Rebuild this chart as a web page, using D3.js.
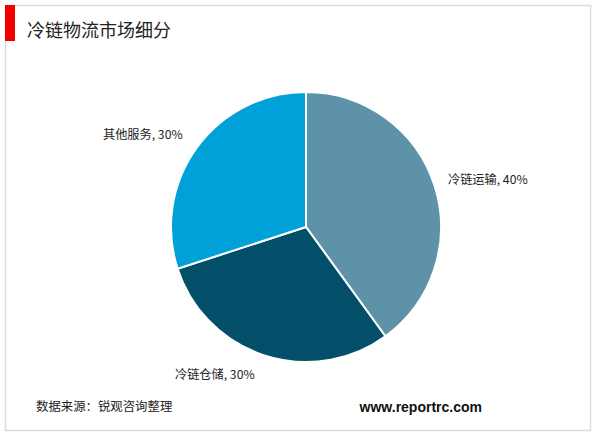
<!DOCTYPE html>
<html><head><meta charset="utf-8">
<script src="https://cdn.jsdelivr.net/npm/d3@7"></script>
<style>body{margin:0;background:#fff}svg{display:block}</style>
</head><body>
<script>
const categories = ["冷链运输", "冷链仓储", "其他服务"];
const values = [40, 30, 30];
const colors = ["#5e92a8", "#034f6a", "#00a1d9"];
const title = "冷链物流市场细分";
const source = "数据来源：锐观咨询整理";
const site = "www.reportrc.com";

const W = 600, H = 433;
const svg = d3.select("body").append("svg").attr("width", W).attr("height", H);
const font = "'Noto Sans CJK SC', 'Microsoft YaHei', sans-serif";

// frame
svg.append("rect").attr("x", 5.5).attr("y", 5.5).attr("width", 585).attr("height", 425)
  .attr("fill", "none").attr("stroke", "#dcdcdc").attr("stroke-width", 1.5);
svg.append("rect").attr("x", 5).attr("y", 5).attr("width", 10).attr("height", 36).attr("fill", "#ee0000");
svg.append("text").attr("x", 27).attr("y", 36.5).attr("font-family", font).attr("font-size", 18)
  .attr("fill", "#222").text(title);

const cx = 306, cy = 227, r = 135;
const pie = d3.pie().sort(null).value(d => d)(values);
const arc = d3.arc().innerRadius(0).outerRadius(r);
const g = svg.append("g").attr("transform", `translate(${cx},${cy})`);
g.selectAll("path").data(pie).join("path")
  .attr("d", arc).attr("fill", (d, i) => colors[i])
  .attr("stroke", "#fff").attr("stroke-width", 2);

const labelPos = [[448, 180, "start"], [175, 375, "start"], [103, 135, "start"]];
svg.selectAll("text.lbl").data(pie).join("text").attr("class", "lbl")
  .attr("x", (d, i) => labelPos[i][0]).attr("y", (d, i) => labelPos[i][1])
  .attr("dy", "0.35em").attr("text-anchor", (d, i) => labelPos[i][2])
  .attr("font-family", font).attr("font-size", 12.2).attr("fill", "#222")
  .text((d, i) => `${categories[i]}, ${d.data}%`);

svg.append("text").attr("x", 36).attr("y", 407).attr("dy", "0.35em").attr("font-family", font)
  .attr("font-size", 12.4).attr("fill", "#222").text(source);
svg.append("text").attr("x", 482).attr("y", 407).attr("dy", "0.35em").attr("text-anchor", "end")
  .attr("font-family", "'Liberation Sans', Arial, sans-serif").attr("font-weight", "bold")
  .attr("font-size", 14).attr("fill", "#111").text(site);
</script>
</body></html>
